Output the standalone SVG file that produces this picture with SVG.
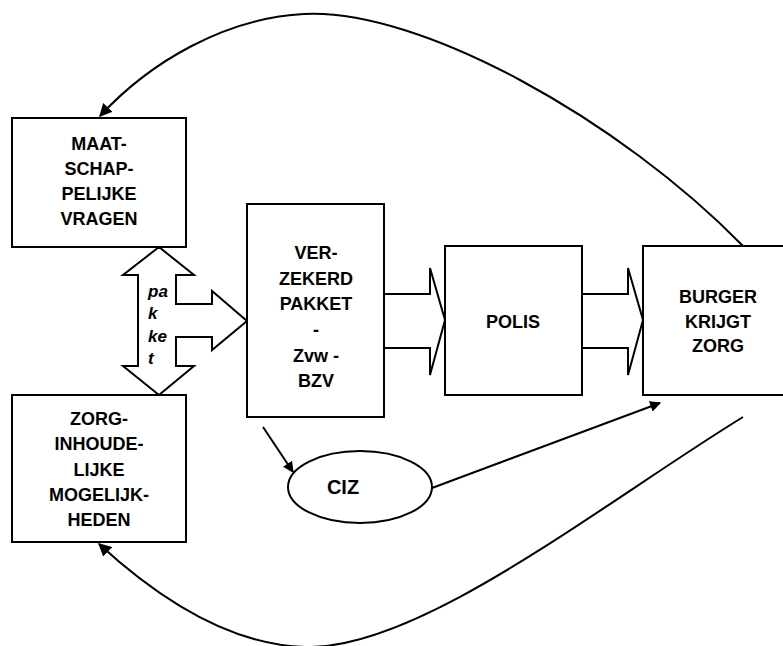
<svg xmlns="http://www.w3.org/2000/svg" width="783" height="646" viewBox="0 0 783 646">
<defs>
<style>
.box{fill:#fff;stroke:#000;stroke-width:2}
.shape{fill:#fff;stroke:#000;stroke-width:2;stroke-linejoin:miter}
.t{font-family:"Liberation Sans",Arial,sans-serif;font-weight:bold;font-size:18px;text-anchor:middle;fill:#000}
.it{font-family:"Liberation Sans",Arial,sans-serif;font-weight:bold;font-style:italic;font-size:17px;fill:#000}
.line{fill:none;stroke:#000;stroke-width:2}
</style>
<marker id="ah" viewBox="0 0 10 10" refX="9" refY="5" markerWidth="11" markerHeight="11" markerUnits="userSpaceOnUse" orient="auto">
<path d="M0,0 L10,5 L0,10 z" fill="#000"/>
</marker>
<marker id="ahb" viewBox="0 0 10 10" refX="9" refY="5" markerWidth="13" markerHeight="13" markerUnits="userSpaceOnUse" orient="auto">
<path d="M0,0 L10,5 L0,10 z" fill="#000"/>
</marker>
</defs>
<rect width="783" height="646" fill="#fff"/>
<g id="connectors">
<path class="line" d="M743,246 C620,120 420,8 304,14 C225,18 150,62 100,116" marker-end="url(#ahb)"/>
<path class="line" d="M743,417 C600,505 420,650 305,647 C230,645 160,600 99,544" marker-end="url(#ahb)"/>
<path class="line" d="M263,427 L293,472" marker-end="url(#ah)"/>
<path class="line" d="M432,488 L660,403" marker-end="url(#ah)"/>
<path class="shape" d="M384,294 L430,294 L430,268 L445,320 L430,375 L430,348 L384,348"/>
<path class="shape" d="M582,294 L628,294 L628,268 L643,320 L628,375 L628,348 L582,348"/>
</g>
<g id="pakket-arrow">
<path class="shape" d="M159,247 L194,275 L176,275 L176,304 L212,304 L212,291 L247,321 L212,350 L212,337 L176,337 L176,366 L194,366 L159,395 L123,366 L138,366 L138,275 L123,275 Z"/>
<text class="it" x="148" y="297">pa</text>
<text class="it" x="148" y="319">k</text>
<text class="it" x="148" y="342">ke</text>
<text class="it" x="148" y="364">t</text>
</g>
<g id="maatschappelijke">
<rect class="box" x="12" y="118" width="174" height="129"/>
<text class="t" x="99" y="150">MAAT-</text>
<text class="t" x="99" y="175">SCHAP-</text>
<text class="t" x="99" y="200">PELIJKE</text>
<text class="t" x="99" y="225">VRAGEN</text>
</g>
<g id="zorginhoudelijke">
<rect class="box" x="12" y="395" width="174" height="147"/>
<text class="t" x="99" y="425">ZORG-</text>
<text class="t" x="99" y="450">INHOUDE-</text>
<text class="t" x="99" y="476">LIJKE</text>
<text class="t" x="99" y="501">MOGELIJK-</text>
<text class="t" x="99" y="526">HEDEN</text>
</g>
<g id="verzekerd">
<rect class="box" x="247" y="204" width="137" height="213"/>
<text class="t" x="316" y="259">VER-</text>
<text class="t" x="316" y="285">ZEKERD</text>
<text class="t" x="316" y="310">PAKKET</text>
<text class="t" x="316" y="336">-</text>
<text class="t" x="316" y="362">Zvw -</text>
<text class="t" x="316" y="387">BZV</text>
</g>
<g id="polis">
<rect class="box" x="445" y="246" width="137" height="149"/>
<text class="t" x="513" y="328">POLIS</text>
</g>
<g id="burger">
<rect class="box" x="643" y="246" width="160" height="149"/>
<text class="t" x="718" y="303">BURGER</text>
<text class="t" x="718" y="328">KRIJGT</text>
<text class="t" x="718" y="352">ZORG</text>
</g>
<g id="ciz">
<ellipse class="box" cx="360" cy="487" rx="72" ry="36"/>
<text class="t" x="343" y="494" style="font-size:20px">CIZ</text>
</g>
</svg>
